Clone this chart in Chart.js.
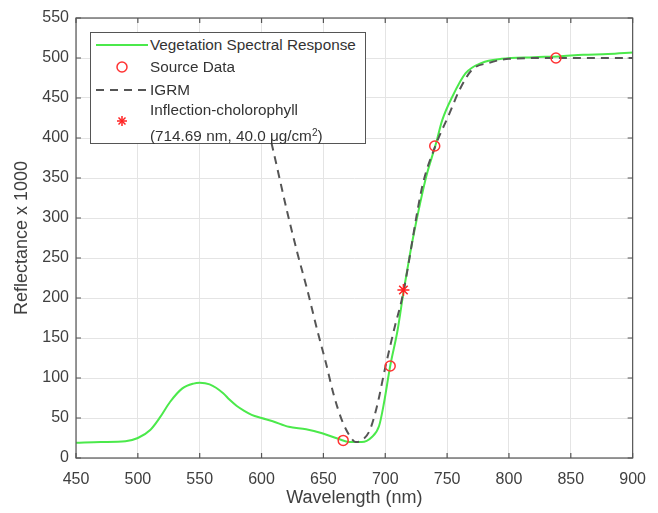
<!DOCTYPE html>
<html>
<head>
<meta charset="utf-8">
<script src="https://cdn.jsdelivr.net/npm/chart.js@4.4.1/dist/chart.umd.min.js"></script>
<style>
  html, body { margin: 0; padding: 0; background: #fff; }
  #wrap { position: relative; width: 658px; height: 513px; }
  #legend {
    position: absolute; left: 90px; top: 32px; width: 274px; height: 110px;
    border: 1px solid #555; background: #fff;
    font-family: 'Liberation Sans', Arial, sans-serif; font-size: 15.3px; color: #333;
  }
  #legend .txt { position: absolute; left: 59px; line-height: 18px; white-space: nowrap; }
  #legend sup { font-size: 10px; line-height: 0; vertical-align: 5px; }
  #legend svg { position: absolute; left: 0; top: 0; }
</style>
</head>
<body>
<div id="wrap">
  <canvas id="chart" width="658" height="513"></canvas>
  <div id="legend">
    <svg width="274" height="110">
      <line x1="5" y1="12" x2="57" y2="12" stroke="#4be94b" stroke-width="2"/>
      <circle cx="31" cy="34" r="5" fill="none" stroke="#ff3333" stroke-width="1.5"/>
      <line x1="5" y1="57" x2="57" y2="57" stroke="#555" stroke-width="2" stroke-dasharray="8,6"/>
      <g stroke="#ff2222" stroke-width="1.5">
        <line x1="26" y1="88" x2="36" y2="88"/>
        <line x1="31" y1="83" x2="31" y2="93"/>
        <line x1="27.5" y1="84.5" x2="34.5" y2="91.5"/>
        <line x1="34.5" y1="84.5" x2="27.5" y2="91.5"/>
      </g>
    </svg>
    <div class="txt" style="top:3px">Vegetation Spectral Response</div>
    <div class="txt" style="top:25px">Source Data</div>
    <div class="txt" style="top:48px">IGRM</div>
    <div class="txt" style="top:68px">Inflection-cholorophyll</div>
    <div class="txt" style="top:94px">(714.69 nm, 40.0 μg/cm<sup>2</sup>)</div>
  </div>
</div>
<script>
// Vegetation spectral response (green line)
const respWl = [450, 470, 490, 500, 510, 518, 526, 536, 545, 550, 558, 569, 574, 580, 586, 592, 600, 609,
                622, 636, 649, 662, 671, 681, 689, 695, 699, 704, 710, 715, 720, 725, 733, 741, 746, 754,
                765, 778, 794, 820, 840, 860, 880, 900];
const respVals = [19, 20, 21, 25, 35, 51, 70, 87, 93, 94, 92, 81, 73, 65, 59, 54, 50, 46,
                  39, 36, 31, 24, 20, 20, 26, 40, 69, 115, 160, 210, 255, 295, 351, 393, 422, 451,
                  481, 494, 499, 501, 502, 504, 505, 507];

// IGRM fit (dashed line)
const igrmWl = [600, 608, 621, 629, 637, 645, 652, 658, 665, 672, 676, 681, 687, 691, 695, 699, 704,
                708, 712, 715, 730, 740, 752, 760, 770, 784, 800, 830, 900];
const igrmVals = [445, 394, 306, 256, 210, 160, 119, 81, 47, 26, 20, 22, 33, 51, 76, 106, 140,
                  166, 189, 210, 340, 388, 431, 460, 485, 494, 499, 500, 500];

// Source data (open circles)
const sourceWl = [666, 704, 740, 838];
const sourceVals = [22, 115, 390, 500];

// Inflection point (star)
const inflWl = [714.69];
const inflVals = [210];

const xTicks = [450, 500, 550, 600, 650, 700, 750, 800, 850, 900];
const yTicks = [0, 50, 100, 150, 200, 250, 300, 350, 400, 450, 500, 550];

function toPoints(xs, ys) {
    return xs.map((x, i) => ({ x: x, y: ys[i] }));
}

const textColor = '#404040';
const axisColor = '#555';
const fontFamily = "'Liberation Sans', Arial";

// draws the MATLAB style box with inward ticks
const boxPlugin = {
    id: 'box',
    afterDraw(chart) {
        const { ctx, chartArea: a, scales } = chart;
        ctx.save();
        ctx.strokeStyle = axisColor;
        ctx.lineWidth = 1.2;
        ctx.beginPath();
        xTicks.forEach(v => {
            const px = scales.x.getPixelForValue(v);
            ctx.moveTo(px, a.bottom); ctx.lineTo(px, a.bottom - 5);
            ctx.moveTo(px, a.top); ctx.lineTo(px, a.top + 5);
        });
        yTicks.forEach(v => {
            const py = scales.y.getPixelForValue(v);
            ctx.moveTo(a.left, py); ctx.lineTo(a.left + 5, py);
            ctx.moveTo(a.right, py); ctx.lineTo(a.right - 5, py);
        });
        ctx.stroke();
        ctx.strokeRect(a.left, a.top, a.right - a.left, a.bottom - a.top);
        ctx.restore();
    }
};

new Chart(document.getElementById('chart'), {
    type: 'line',
    data: {
        datasets: [
            {
                label: 'Inflection-cholorophyll',
                data: toPoints(inflWl, inflVals),
                showLine: false,
                pointStyle: 'star',
                pointRadius: 6,
                borderColor: '#ff2222',
                borderWidth: 1.5,
                order: 0
            },
            {
                label: 'Source Data',
                data: toPoints(sourceWl, sourceVals),
                showLine: false,
                pointStyle: 'circle',
                pointRadius: 5,
                borderColor: '#ff3333',
                backgroundColor: 'rgba(0,0,0,0)',
                borderWidth: 1.5,
                order: 1
            },
            {
                label: 'IGRM',
                data: toPoints(igrmWl, igrmVals),
                borderColor: '#555',
                borderWidth: 2,
                borderDash: [8, 6],
                pointRadius: 0,
                cubicInterpolationMode: 'monotone',
                order: 2
            },
            {
                label: 'Vegetation Spectral Response',
                data: toPoints(respWl, respVals),
                borderColor: '#4be94b',
                borderWidth: 2,
                pointRadius: 0,
                cubicInterpolationMode: 'monotone',
                order: 3
            }
        ]
    },
    options: {
        responsive: false,
        animation: false,
        layout: { padding: { left: 0, right: 24, top: 18, bottom: 0 } },
        plugins: { legend: { display: false }, tooltip: { enabled: false } },
        scales: {
            x: {
                type: 'linear',
                min: 450,
                max: 900,
                afterBuildTicks(scale) { scale.ticks = xTicks.map(v => ({ value: v })); },
                afterFit(scale) { scale.height = 55; },
                grid: { color: '#e4e4e4', drawTicks: false },
                border: { display: false },
                ticks: { color: textColor, padding: 12, font: { family: fontFamily, size: 16 } },
                title: {
                    display: true,
                    text: 'Wavelength (nm)',
                    color: textColor,
                    padding: { top: 0, bottom: 4 },
                    font: { family: fontFamily, size: 18 }
                }
            },
            y: {
                type: 'linear',
                min: 0,
                max: 550,
                afterBuildTicks(scale) { scale.ticks = yTicks.map(v => ({ value: v })); },
                afterFit(scale) { scale.width = 76; },
                grid: { color: '#e4e4e4', drawTicks: false },
                border: { display: false },
                ticks: { color: textColor, padding: 7, font: { family: fontFamily, size: 16 } },
                title: {
                    display: true,
                    text: 'Reflectance x 1000',
                    color: textColor,
                    padding: { top: 11, bottom: 0 },
                    font: { family: fontFamily, size: 18 }
                }
            }
        }
    },
    plugins: [boxPlugin]
});
</script>
</body>
</html>
